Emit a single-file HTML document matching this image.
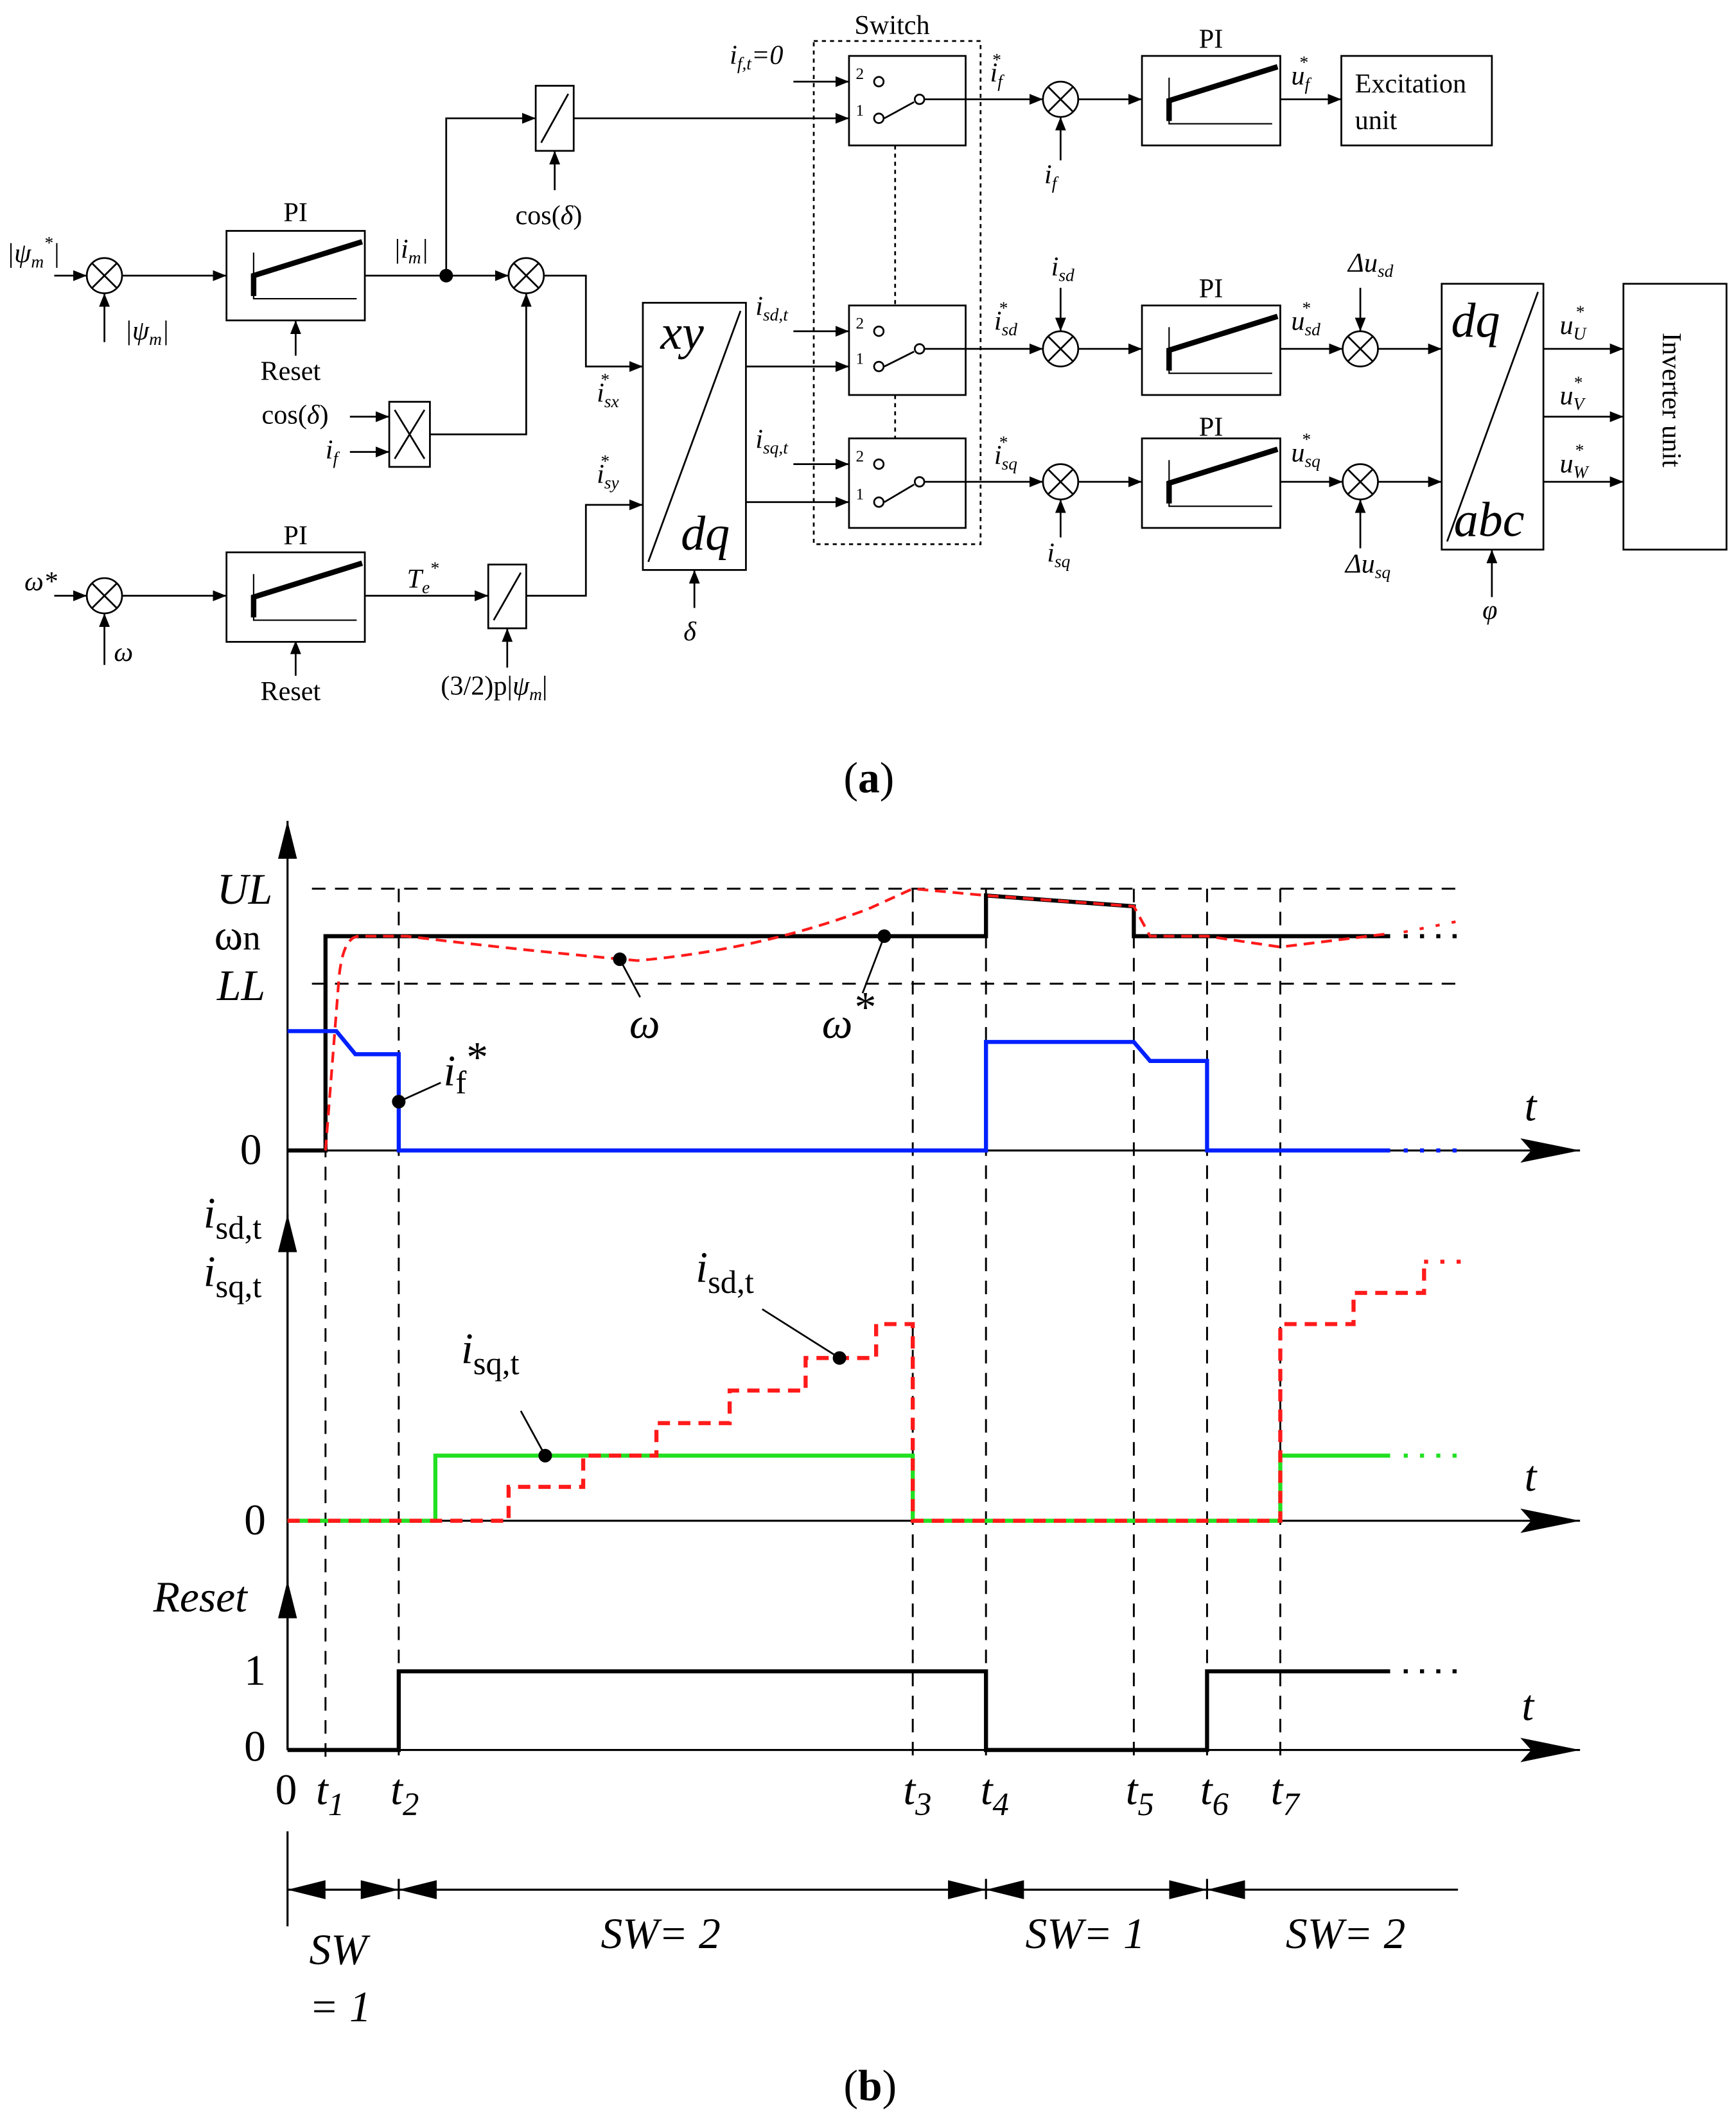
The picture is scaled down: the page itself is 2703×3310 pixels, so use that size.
<!DOCTYPE html>
<html><head><meta charset="utf-8"><style>
html,body{margin:0;padding:0;background:#fff}
svg{display:block}
text{font-family:"Liberation Serif",serif;fill:#000}
.it{font-style:italic}
</style></head><body>
<svg width="2703" height="3310" viewBox="0 0 1280 1567" xmlns="http://www.w3.org/2000/svg">
<defs>
<marker id="a" markerWidth="10" markerHeight="8" refX="10" refY="4" orient="auto" markerUnits="userSpaceOnUse"><path d="M0,0 L10,4 L0,8z" fill="#000"/></marker>
<marker id="b" markerWidth="44" markerHeight="18" refX="44" refY="9" orient="auto" markerUnits="userSpaceOnUse"><path d="M0,0 L44,9 L0,18 L8,9z" fill="#000"/></marker>
<marker id="c" markerWidth="28" markerHeight="14" refX="28" refY="7" orient="auto" markerUnits="userSpaceOnUse"><path d="M0,0 L28,7 L0,14z" fill="#000"/></marker>
<g id="sj"><circle cx="0" cy="0" r="13" fill="#fff" stroke="#000" stroke-width="1.3"/><path d="M-9,-9 L9,9 M9,-9 L-9,9" stroke="#000" stroke-width="1.3"/></g>
<g id="pi"><rect x="0" y="0" width="102" height="66" fill="#fff" stroke="#000" stroke-width="1.3"/><path d="M20,16 L20,50 L96,50" stroke="#000" fill="none" stroke-width="1"/><path d="M20,48 L20,33 L100,8" stroke="#000" fill="none" stroke-width="4"/></g>
</defs>
<g stroke="#000" stroke-width="1.3" fill="none">
<!-- row psi -->
<path d="M40,203 H64" marker-end="url(#a)"/>
<path d="M77,252 V216" marker-end="url(#a)"/>
<path d="M90,203 H167" marker-end="url(#a)"/>
<path d="M269,203 H375" marker-end="url(#a)"/>
<path d="M329,203 V87 H395" marker-end="url(#a)"/>
<path d="M423,87 H626" marker-end="url(#a)"/>
<path d="M409,140 V111" marker-end="url(#a)"/>
<path d="M218,262 V236" marker-end="url(#a)"/>
<path d="M218,498 V472" marker-end="url(#a)"/>
<path d="M258,307 H287" marker-end="url(#a)"/>
<path d="M258,333 H287" marker-end="url(#a)"/>
<path d="M317,320 H388 V216" marker-end="url(#a)"/>
<path d="M401,203 H432 V270 H474" marker-end="url(#a)"/>
<!-- omega row -->
<path d="M40,439 H64" marker-end="url(#a)"/>
<path d="M77,490 V452" marker-end="url(#a)"/>
<path d="M90,439 H167" marker-end="url(#a)"/>
<path d="M269,439 H360" marker-end="url(#a)"/>
<path d="M388,439 H432 V372 H474" marker-end="url(#a)"/>
<path d="M374,492 V463" marker-end="url(#a)"/>
<path d="M512,448 V420" marker-end="url(#a)"/>
<path d="M550,270 H626" marker-end="url(#a)"/>
<path d="M550,370 H626" marker-end="url(#a)"/>
<path d="M585,60 H626" marker-end="url(#a)"/>
<path d="M585,244 H626" marker-end="url(#a)"/>
<path d="M585,342 H626" marker-end="url(#a)"/>
<!-- switch outputs -->
<path d="M712,73 H769" marker-end="url(#a)"/>
<path d="M782,118 V86" marker-end="url(#a)"/>
<path d="M795,73 H842" marker-end="url(#a)"/>
<path d="M944,73 H989" marker-end="url(#a)"/>
<path d="M712,257 H769" marker-end="url(#a)"/>
<path d="M782,212 V244" marker-end="url(#a)"/>
<path d="M795,257 H842" marker-end="url(#a)"/>
<path d="M944,257 H990" marker-end="url(#a)"/>
<path d="M1003,212 V244" marker-end="url(#a)"/>
<path d="M1016,257 H1063" marker-end="url(#a)"/>
<path d="M712,355 H769" marker-end="url(#a)"/>
<path d="M782,396 V368" marker-end="url(#a)"/>
<path d="M795,355 H842" marker-end="url(#a)"/>
<path d="M944,355 H990" marker-end="url(#a)"/>
<path d="M1003,404 V368" marker-end="url(#a)"/>
<path d="M1016,355 H1063" marker-end="url(#a)"/>
<path d="M1138,257 H1197" marker-end="url(#a)"/>
<path d="M1138,307 H1197" marker-end="url(#a)"/>
<path d="M1138,355 H1197" marker-end="url(#a)"/>
<path d="M1100,440 V405" marker-end="url(#a)"/>
<!-- blocks -->
<rect x="395" y="63" width="28" height="48" fill="#fff"/><path d="M399,105 L419,69"/>
<rect x="360" y="416" width="28" height="47" fill="#fff"/><path d="M364,457 L384,422"/>
<rect x="287" y="296" width="30" height="48" fill="#fff"/><path d="M291,302 L313,338 M313,302 L291,338"/>
<rect x="474" y="223" width="76" height="197" fill="#fff"/><path d="M478,414 L546,229"/>
<rect x="1063" y="209" width="75" height="196" fill="#fff"/><path d="M1067,399 L1134,215"/>
<rect x="989" y="41" width="111" height="66"/>
<rect x="1197" y="209" width="76" height="196"/>
<rect x="600" y="30" width="123" height="371" stroke-dasharray="3,3"/>
<path d="M660,107 V225 M660,291 V323" stroke-dasharray="3,3"/>
<rect x="626" y="41" width="86" height="66"/>
<rect x="626" y="225" width="86" height="66"/>
<rect x="626" y="323" width="86" height="66"/>
<path d="M652,87 L674,75 M682,73 H712 M652,270 L674,259 M682,257 H712 M652,370 L674,357 M682,355 H712"/>
<circle cx="648" cy="60" r="3.5" fill="#fff"/><circle cx="648" cy="87" r="3.5" fill="#fff"/><circle cx="678" cy="73" r="3.5" fill="#fff"/>
<circle cx="648" cy="244" r="3.5" fill="#fff"/><circle cx="648" cy="270" r="3.5" fill="#fff"/><circle cx="678" cy="257" r="3.5" fill="#fff"/>
<circle cx="648" cy="342" r="3.5" fill="#fff"/><circle cx="648" cy="370" r="3.5" fill="#fff"/><circle cx="678" cy="355" r="3.5" fill="#fff"/>
<path d="M208,232 H213 V226 H226 V232 H231" stroke-width="1"/>
<path d="M208,468 H213 V462 H226 V468 H231" stroke-width="1"/>
</g>
<circle cx="329" cy="203" r="5" fill="#000"/>
<use href="#pi" x="167" y="170"/><use href="#pi" x="167" y="407"/>
<use href="#pi" x="842" y="41"/><use href="#pi" x="842" y="225"/><use href="#pi" x="842" y="323"/>
<use href="#sj" x="77" y="203"/><use href="#sj" x="388" y="203"/><use href="#sj" x="77" y="439"/>
<use href="#sj" x="782" y="73"/><use href="#sj" x="782" y="257"/><use href="#sj" x="782" y="355"/>
<use href="#sj" x="1003" y="257"/><use href="#sj" x="1003" y="355"/>
<g font-size="20">
<text x="209" y="163">PI</text><text x="209" y="401">PI</text>
<text x="884" y="35">PI</text><text x="884" y="219">PI</text><text x="884" y="321">PI</text>
<text x="630" y="25">Switch</text>
<text x="999" y="68">Excitation</text><text x="999" y="95">unit</text>
<text x="192" y="280">Reset</text><text x="192" y="516">Reset</text>
<text x="380" y="165">cos(<tspan class="it">δ</tspan>)</text>
<text x="193" y="312">cos(<tspan class="it">δ</tspan>)</text>
<text x="240" y="338" class="it">i<tspan font-size="13" dy="4">f</tspan></text>
<text x="5" y="193" class="it">|ψ<tspan font-size="13" dy="4">m</tspan><tspan font-size="13" dy="-14">*</tspan><tspan dy="10">|</tspan></text>
<text x="92" y="250" class="it">|ψ<tspan font-size="13" dy="4">m</tspan><tspan dy="-4">|</tspan></text>
<text x="290" y="190" class="it">|i<tspan font-size="13" dy="4">m</tspan><tspan dy="-4">|</tspan></text>
<text x="18" y="435" class="it">ω*</text>
<text x="84" y="487" class="it">ω</text>
<text x="300" y="433" class="it">T<tspan font-size="13" dy="4">e</tspan><tspan font-size="13" dy="-14">*</tspan></text>
<text x="325" y="512">(3/2)p|<tspan class="it">ψ<tspan font-size="13" dy="4">m</tspan></tspan><tspan dy="-4">|</tspan></text>
<text x="504" y="472" class="it">δ</text>
<text x="440" y="296" class="it">i<tspan font-size="13" dy="4">sx</tspan><tspan font-size="13" dx="-14" dy="-16">*</tspan></text>
<text x="440" y="356" class="it">i<tspan font-size="13" dy="4">sy</tspan><tspan font-size="13" dx="-14" dy="-16">*</tspan></text>
<text x="557" y="232" class="it">i<tspan font-size="13" dy="4">sd,t</tspan></text>
<text x="557" y="330" class="it">i<tspan font-size="13" dy="4">sq,t</tspan></text>
<text x="538" y="47" class="it">i<tspan font-size="13" dy="4">f,t</tspan><tspan dy="-4">=0</tspan></text>
<text x="730" y="60" class="it">i<tspan font-size="13" dy="4">f</tspan><tspan font-size="13" dx="-8" dy="-16">*</tspan></text>
<text x="770" y="135" class="it">i<tspan font-size="13" dy="4">f</tspan></text>
<text x="952" y="62" class="it">u<tspan font-size="13" dy="4">f</tspan><tspan font-size="13" dx="-8" dy="-16">*</tspan></text>
<text x="733" y="243" class="it">i<tspan font-size="13" dy="4">sd</tspan><tspan font-size="13" dx="-14" dy="-16">*</tspan></text>
<text x="775" y="203" class="it">i<tspan font-size="13" dy="4">sd</tspan></text>
<text x="952" y="243" class="it">u<tspan font-size="13" dy="4">sd</tspan><tspan font-size="13" dx="-14" dy="-16">*</tspan></text>
<text x="994" y="200" class="it">Δu<tspan font-size="13" dy="4">sd</tspan></text>
<text x="733" y="342" class="it">i<tspan font-size="13" dy="4">sq</tspan><tspan font-size="13" dx="-14" dy="-16">*</tspan></text>
<text x="772" y="414" class="it">i<tspan font-size="13" dy="4">sq</tspan></text>
<text x="952" y="340" class="it">u<tspan font-size="13" dy="4">sq</tspan><tspan font-size="13" dx="-14" dy="-16">*</tspan></text>
<text x="992" y="422" class="it">Δu<tspan font-size="13" dy="4">sq</tspan></text>
<text x="1150" y="246" class="it">u<tspan font-size="13" dy="4">U</tspan><tspan font-size="13" dx="-8" dy="-16">*</tspan></text>
<text x="1150" y="298" class="it">u<tspan font-size="13" dy="4">V</tspan><tspan font-size="13" dx="-8" dy="-16">*</tspan></text>
<text x="1150" y="348" class="it">u<tspan font-size="13" dy="4">W</tspan><tspan font-size="13" dx="-10" dy="-16">*</tspan></text>
<text x="1093" y="456" class="it">φ</text>
<text x="1226" y="245" transform="rotate(90 1226 245)">Inverter unit</text>
</g>
<g font-size="12"><text x="631" y="58">2</text><text x="631" y="85">1</text><text x="631" y="242">2</text><text x="631" y="268">1</text><text x="631" y="340">2</text><text x="631" y="368">1</text></g>
<g font-size="36" class="it"><text x="487" y="257">xy</text><text x="502" y="405">dq</text><text x="1070" y="248">dq</text><text x="1072" y="395">abc</text></g>
<text x="622" y="584" font-size="32">(<tspan font-weight="bold">a</tspan>)</text>
<text x="622" y="1548" font-size="32">(<tspan font-weight="bold">b</tspan>)</text>

<!-- Part b -->
<g stroke="#000" stroke-width="1.5" fill="none">
<path d="M212,1290 V605" marker-end="url(#c)"/>
<path d="M212,1290 V895" marker-end="url(#c)"/>
<path d="M212,1290 V1165" marker-end="url(#c)"/>
<path d="M212,848 H1165" marker-end="url(#b)"/>
<path d="M212,1121 H1165" marker-end="url(#b)"/>
<path d="M212,1290 H1165" marker-end="url(#b)"/>
<g stroke-dasharray="10,7" stroke-width="1.4">
<path d="M230,655 H1080 M230,725 H1080"/>
<path d="M240,690 V1300 M294,655 V1300 M673,655 V1300 M727,655 V1300 M836,655 V1300 M890,655 V1300 M944,655 V1300"/>
</g>
<!-- SW arrows -->
<path d="M212,1350 V1420 M294,1385 V1400 M727,1385 V1400 M890,1385 V1400"/>
<path d="M1075,1393 H890" marker-end="url(#c)"/>
<path d="M212,1393 H294" marker-end="url(#c)"/><path d="M294,1393 H212" marker-end="url(#c)"/>
<path d="M294,1393 H727" marker-end="url(#c)"/><path d="M727,1393 H294" marker-end="url(#c)"/>
<path d="M727,1393 H890" marker-end="url(#c)"/><path d="M890,1393 H727" marker-end="url(#c)"/>
<!-- omega* -->
<path d="M212,848 H240 V690 H727 V660 L836,668 V690 H1025" stroke-width="3"/>
<path d="M1035,690 H1080" stroke-width="3" stroke-dasharray="3,9"/>
<!-- if* -->
<path d="M212,760 H248 L262,777 H294 V848 H727 V768 H836 L848,782 H890 V848 H1025" stroke="#0020ff" stroke-width="3"/>
<path d="M1035,848 H1080" stroke="#0020ff" stroke-width="3" stroke-dasharray="3,9"/>
<!-- omega -->
<path d="M240,848 L250,720 Q253,690 265,690 L300,690 Q380,700 470,708 Q560,700 640,670 L673,655 L727,660 L836,668 L848,690 H890 L944,698 L1025,688" stroke="#ff1a1a" stroke-width="2" stroke-dasharray="8,5"/>
<path d="M1035,687 L1080,678" stroke="#ff1a1a" stroke-width="2" stroke-dasharray="3,9"/>
<!-- leaders -->
<path d="M457,707 L472,735 M652,690 L636,732 M294,812 L325,798 M402,1073 L384,1040 M619,1001 L562,965" stroke-width="1.3"/>
<!-- isq green -->
<path d="M212,1121 H321 V1073 H673 V1121 H944 V1073 H1025" stroke="#22e022" stroke-width="3"/>
<path d="M1035,1073 H1080" stroke="#22e022" stroke-width="3" stroke-dasharray="3,9"/>
<!-- isd red -->
<path d="M212,1121 H375 V1096 H430 V1073 H484 V1049 H538 V1025 H594 V1001 H646 V976 H673 V1121 H944 V976 H998 V953 H1050 V930" stroke="#ff1a1a" stroke-width="3" stroke-dasharray="9,6"/>
<path d="M1050,930 H1080" stroke="#ff1a1a" stroke-width="3" stroke-dasharray="3,9"/>
<!-- reset -->
<path d="M212,1290 H294 V1232 H727 V1290 H890 V1232 H1025" stroke-width="3"/>
<path d="M1035,1232 H1080" stroke-width="3" stroke-dasharray="3,9"/>
</g>
<circle cx="294" cy="812" r="5"/><circle cx="457" cy="707" r="5"/><circle cx="652" cy="690" r="5"/>
<circle cx="402" cy="1073" r="5"/><circle cx="619" cy="1001" r="5"/>
<g font-size="32" class="it">
<text x="160" y="666">UL</text><text x="160" y="737">LL</text>
<text x="158" y="700" font-style="normal">ω<tspan font-size="26">n</tspan></text>
<text x="177" y="858" font-style="normal">0</text><text x="180" y="1131" font-style="normal">0</text>
<text x="180" y="1242" font-style="normal">1</text><text x="180" y="1298" font-style="normal">0</text>
<text x="1124" y="826">t</text><text x="1124" y="1099">t</text><text x="1122" y="1268">t</text>
<text x="464" y="765">ω</text><text x="606" y="765">ω<tspan dy="-12">*</tspan></text>
<text x="327" y="800">i<tspan font-size="24" font-style="normal" dy="6">f</tspan><tspan font-style="normal" dy="-16">*</tspan></text>
<text x="150" y="905">i<tspan font-size="24" font-style="normal" dy="8">sd,t</tspan></text>
<text x="150" y="948">i<tspan font-size="24" font-style="normal" dy="8">sq,t</tspan></text>
<text x="513" y="945">i<tspan font-size="24" font-style="normal" dy="8">sd,t</tspan></text>
<text x="340" y="1005">i<tspan font-size="24" font-style="normal" dy="8">sq,t</tspan></text>
<text x="113" y="1188">Reset</text>
<text x="203" y="1330" font-style="normal">0</text>
<text x="233" y="1330">t<tspan font-size="24" dy="8">1</tspan></text>
<text x="288" y="1330">t<tspan font-size="24" dy="8">2</tspan></text>
<text x="666" y="1330">t<tspan font-size="24" dy="8">3</tspan></text>
<text x="723" y="1330">t<tspan font-size="24" dy="8">4</tspan></text>
<text x="830" y="1330">t<tspan font-size="24" dy="8">5</tspan></text>
<text x="885" y="1330">t<tspan font-size="24" dy="8">6</tspan></text>
<text x="937" y="1330">t<tspan font-size="24" dy="8">7</tspan></text>
<text x="228" y="1448">SW</text><text x="228" y="1490">= 1</text>
<text x="443" y="1436">SW= 2</text><text x="756" y="1436">SW= 1</text><text x="948" y="1436">SW= 2</text>
</g>
</svg>
</body></html>
